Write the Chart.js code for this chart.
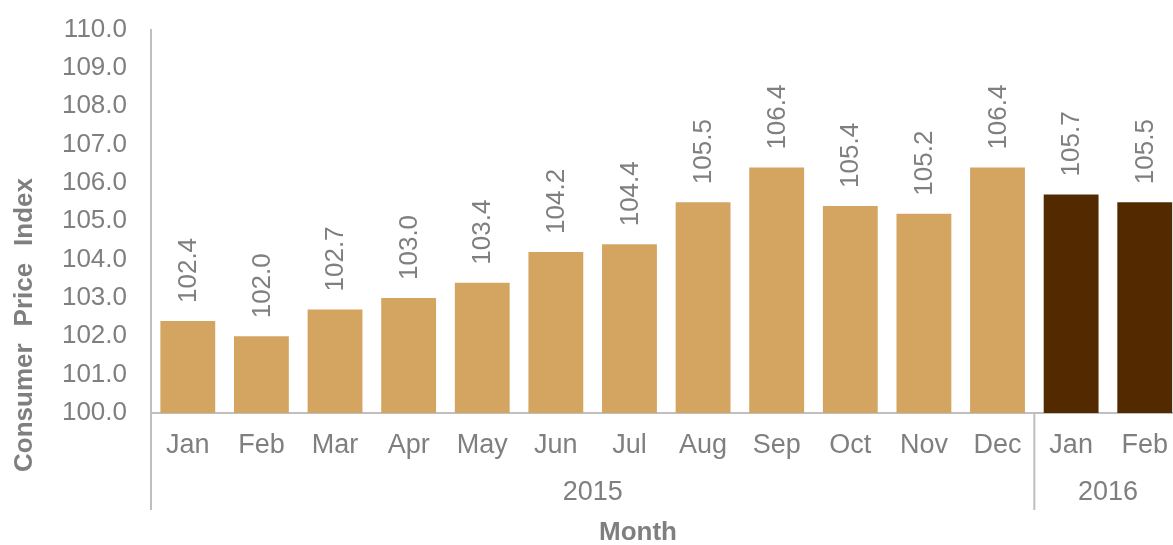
<!DOCTYPE html>
<html>
<head>
<meta charset="utf-8">
<script src="https://cdn.jsdelivr.net/npm/chart.js@4"></script>
<style>
  html, body { margin:0; padding:0; background:#fff; overflow:hidden; }
  #wrap { width:1184px; height:555px; margin-top:-10px; position:relative; }
</style>
</head>
<body>
<div id="wrap"><canvas id="cpi"></canvas></div>
<script>
// Monthly CPI values, Jan 2015 - Feb 2016
const months = ['Jan','Feb','Mar','Apr','May','Jun','Jul','Aug','Sep','Oct','Nov','Dec','Jan','Feb'];
const years = ['2015','2015','2015','2015','2015','2015','2015','2015','2015','2015','2015','2015','2016','2016'];
const cpiValues = [102.4, 102.0, 102.7, 103.0, 103.4, 104.2, 104.4, 105.5, 106.4, 105.4, 105.2, 106.4, 105.7, 105.5];
const yTicks = [100, 101, 102, 103, 104, 105, 106, 107, 108, 109, 110];

const LIGHT = '#D4A461';
const DARK = '#532A00';
const GREY = '#7F7F7F';
const LINE = '#BFBFBF';
const FONT = '"Liberation Sans", Arial, sans-serif';
const FS = 26;   // ticks, value labels, titles
const FSX = 27;  // month and year labels

const barColors = years.map(y => y === '2016' ? DARK : LIGHT);

// value labels above bars, rotated
const valueLabels = {
  id: 'valueLabels',
  afterDatasetsDraw(chart){
    const ctx = chart.ctx;
    const meta = chart.getDatasetMeta(0);
    ctx.save();
    ctx.fillStyle = GREY;
    ctx.font = FS + 'px ' + FONT;
    ctx.textAlign = 'left';
    ctx.textBaseline = 'middle';
    meta.data.forEach((bar, i) => {
      ctx.save();
      ctx.translate(bar.x + 1, bar.y - 18);
      ctx.rotate(-Math.PI / 2);
      ctx.fillText(cpiValues[i].toFixed(1), 0, 0);
      ctx.restore();
    });
    ctx.restore();
  }
};

// year row, group separators and axis titles (placed relative to the plot area)
const extras = {
  id: 'extras',
  afterDraw(chart){
    const ctx = chart.ctx;
    const x = chart.scales.x;
    const area = chart.chartArea;
    ctx.save();
    ctx.strokeStyle = LINE;
    ctx.lineWidth = 2;
    const bottom = area.bottom + 97;
    const groups = [];
    years.forEach((y, i) => {
      if (!groups.length || groups[groups.length-1].year !== y) groups.push({year:y, start:i, end:i});
      else groups[groups.length-1].end = i;
    });
    const half = (x.getPixelForValue(1) - x.getPixelForValue(0)) / 2;
    ctx.beginPath();
    ctx.moveTo(area.left, area.bottom); ctx.lineTo(area.left, bottom);
    groups.forEach((g, gi) => {
      if (gi > 0) {
        const sx = x.getPixelForValue(g.start) - half;
        ctx.moveTo(sx, area.bottom); ctx.lineTo(sx, bottom);
      }
    });
    ctx.stroke();
    // year labels
    ctx.fillStyle = GREY;
    ctx.font = FSX + 'px ' + FONT;
    ctx.textAlign = 'center';
    ctx.textBaseline = 'middle';
    groups.forEach(g => {
      const l = x.getPixelForValue(g.start) - half;
      const r = x.getPixelForValue(g.end) + half;
      ctx.fillText(g.year, (l + r) / 2, area.bottom + 80);
    });
    // axis titles
    ctx.font = 'bold ' + FS + 'px ' + FONT;
    ctx.fillText('Month', 638, area.bottom + 120);
    // y title, words spread out over ~294px
    const words = ['Consumer', 'Price', 'Index'];
    const total = 294;
    const widths = words.map(w => ctx.measureText(w).width);
    const gap = (total - widths.reduce((a, b) => a + b, 0)) / (words.length - 1);
    ctx.save();
    ctx.translate(25, area.bottom - 88);
    ctx.rotate(-Math.PI / 2);
    ctx.textAlign = 'left';
    let pos = -total / 2;
    words.forEach((w, i) => { ctx.fillText(w, pos, 0); pos += widths[i] + gap; });
    ctx.restore();
    ctx.restore();
  }
};

new Chart(document.getElementById('cpi'), {
  type: 'bar',
  data: {
    labels: months,
    datasets: [{
      data: cpiValues,
      backgroundColor: barColors,
      borderWidth: 0,
      barPercentage: 0.745,
      categoryPercentage: 1
    }]
  },
  options: {
    responsive: true,
    maintainAspectRatio: false,
    animation: false,
    layout: { autoPadding: false, padding: { top: 28, right: 0, left: 0, bottom: 0 } },
    plugins: { legend: { display: false }, tooltip: { enabled: false } },
    scales: {
      x: {
        grid: { display: false, drawTicks: false },
        border: { color: LINE, width: 2 },
        ticks: { color: GREY, font: { family: FONT, size: FSX }, padding: 16, maxRotation: 0, autoSkip: false },
        afterFit(scale){ scale.height = 132; }
      },
      y: {
        min: 100, max: 110,
        afterBuildTicks(scale){ scale.ticks = yTicks.map(v => ({ value: v })); },
        grid: { display: false, drawTicks: false },
        border: { color: LINE, width: 2 },
        ticks: { color: GREY, font: { family: FONT, size: FS }, padding: 24, callback: v => v.toFixed(1) },
        afterFit(scale){ scale.width = 151; }
      }
    }
  },
  plugins: [valueLabels, extras]
});
</script>
</body>
</html>
